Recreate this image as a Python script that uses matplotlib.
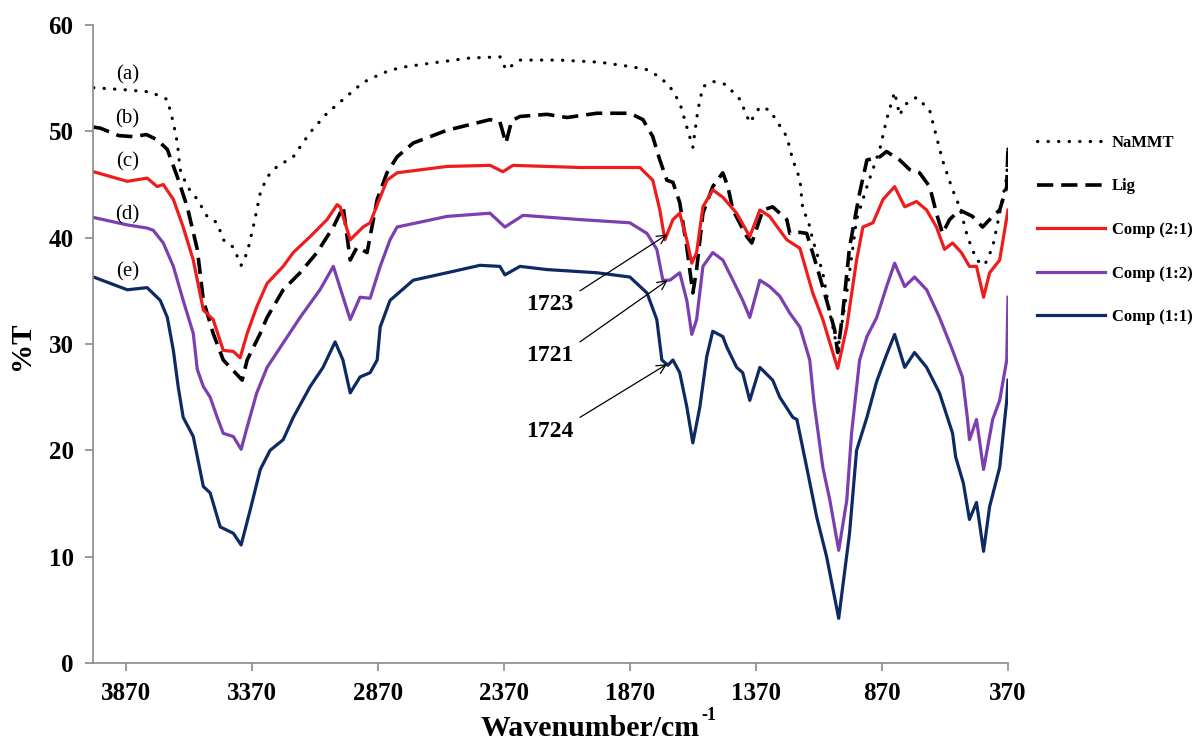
import matplotlib
matplotlib.use("Agg")
import matplotlib.pyplot as plt

plt.rcParams['font.family'] = ['Liberation Serif', 'DejaVu Serif']

# FTIR spectra: wavenumber (cm-1) and transmittance (%T)
wn_nammt = [4000, 3870, 3775, 3735, 3707, 3683, 3667, 3656, 3628, 3588, 3549, 3509, 3485,
            3445, 3414, 3390, 3366, 3338, 3311, 3271, 3207, 3140, 3073, 3009, 2930, 2850,
            2783, 2664, 2505, 2386, 2363, 2307, 2149, 1990, 1871, 1803, 1752, 1712, 1673,
            1645, 1621, 1601, 1581, 1542, 1490, 1434, 1395, 1355, 1316, 1248, 1224, 1196,
            1184, 1165, 1145, 1105, 1077, 1046, 1010, 971, 930, 879, 852, 820, 800, 780,
            733, 681, 654, 630, 590, 562, 531, 495, 463, 431, 403, 375, 370]
t_nammt = [54.1, 53.9, 53.7, 53.3, 53.0, 50.8, 48.9, 46.4, 44.8, 43.6, 42.0, 41.4, 39.8,
           39.1, 37.4, 38.6, 41.0, 44.2, 45.7, 46.7, 47.6, 49.9, 51.7, 53.0, 54.6, 55.5,
           56.0, 56.4, 56.9, 57.0, 55.8, 56.7, 56.7, 56.5, 56.1, 55.8, 55.1, 54.2, 52.7,
           50.4, 48.5, 52.0, 54.2, 54.7, 54.4, 53.0, 50.8, 52.3, 52.0, 49.5, 47.3, 45.5,
           42.5, 41.8, 39.8, 36.7, 32.9, 29.4, 34.8, 41.7, 44.8, 48.3, 51.1, 53.7, 51.5,
           52.5, 53.2, 52.0, 49.5, 47.3, 44.5, 42.9, 40.1, 37.9, 37.4, 39.1, 42.3, 45.7, 48.5]

wn_lig = [4000, 3973, 3900, 3842, 3790, 3747, 3707, 3667, 3628, 3588, 3564, 3525, 3485,
          3445, 3410, 3390, 3338, 3311, 3247, 3180, 3113, 3048, 3009, 2981, 2954, 2914,
          2874, 2835, 2795, 2731, 2597, 2426, 2387, 2363, 2340, 2307, 2200, 2121, 2002,
          1871, 1819, 1780, 1752, 1724, 1700, 1673, 1645, 1621, 1606, 1581, 1542, 1502,
          1482, 1462, 1407, 1387, 1343, 1304, 1248, 1236, 1196, 1169, 1129, 1090, 1058,
          1046, 1026, 999, 959, 930, 879, 852, 800, 760, 721, 681, 654, 630, 602, 562,
          511, 471, 431, 403, 375, 370]
t_lig = [50.4, 50.3, 49.6, 49.5, 49.7, 49.2, 48.3, 45.7, 42.9, 38.9, 34.1, 31.0, 28.5,
         27.5, 26.6, 28.5, 31.0, 32.5, 35.1, 36.7, 38.6, 41.0, 42.9, 37.9, 39.1, 38.6,
         43.6, 46.1, 47.6, 48.9, 50.1, 51.1, 50.9, 48.9, 51.0, 51.4, 51.6, 51.3, 51.7,
         51.7, 51.1, 49.5, 47.3, 45.4, 45.2, 43.3, 39.1, 34.8, 37.0, 42.3, 44.8, 46.1,
         44.8, 42.6, 40.1, 39.5, 42.6, 42.9, 41.7, 40.4, 40.5, 40.4, 37.3, 34.1, 31.3,
         29.2, 32.9, 39.1, 44.2, 47.3, 47.6, 48.1, 47.3, 46.4, 46.1, 44.8, 42.3, 40.4,
         41.7, 42.6, 42.0, 41.0, 42.0, 42.6, 44.8, 48.5]

wn_c21 = [4000, 3866, 3787, 3747, 3723, 3683, 3644, 3604, 3564, 3525, 3485, 3445, 3418,
          3390, 3352, 3311, 3247, 3207, 3140, 3073, 3033, 3021, 2981, 2930, 2902, 2835,
          2795, 2597, 2426, 2375, 2335, 2069, 1831, 1780, 1752, 1732, 1700, 1673, 1645,
          1625, 1606, 1581, 1542, 1502, 1447, 1395, 1355, 1316, 1276, 1248, 1196, 1145,
          1105, 1077, 1046, 1010, 971, 946, 906, 866, 820, 780, 733, 693, 654, 622, 590,
          555, 523, 495, 467, 443, 403, 370]
t_c21 = [46.2, 45.3, 45.6, 44.8, 45.0, 43.6, 41.0, 37.9, 33.2, 32.3, 29.4, 29.3, 28.7,
         31.0, 33.5, 35.7, 37.3, 38.6, 40.1, 41.7, 43.1, 42.9, 39.8, 41.0, 41.4, 45.4,
         46.1, 46.7, 46.8, 46.2, 46.8, 46.6, 46.6, 45.4, 42.6, 39.8, 41.7, 42.3, 39.8,
         37.6, 38.6, 42.9, 44.5, 43.8, 42.3, 40.1, 42.6, 42.0, 40.7, 39.8, 39.0, 34.8,
         32.3, 30.1, 27.7, 31.6, 37.9, 41.0, 41.4, 43.6, 44.8, 42.9, 43.4, 42.6, 41.0,
         38.9, 39.5, 38.6, 37.3, 37.3, 34.4, 36.7, 37.9, 42.6]

wn_c12 = [4000, 3866, 3787, 3763, 3723, 3683, 3644, 3604, 3588, 3564, 3537, 3509, 3485,
          3445, 3414, 3390, 3352, 3311, 3247, 3180, 3101, 3048, 2981, 2942, 2902, 2862,
          2823, 2795, 2597, 2426, 2367, 2295, 2069, 1871, 1803, 1764, 1740, 1712, 1673,
          1645, 1625, 1606, 1581, 1542, 1502, 1462, 1423, 1395, 1355, 1316, 1276, 1236,
          1196, 1157, 1140, 1105, 1077, 1042, 1010, 991, 959, 930, 891, 852, 820, 780,
          741, 693, 642, 590, 551, 531, 523, 495, 467, 431, 403, 375, 370]
t_c12 = [41.9, 41.2, 40.9, 40.7, 39.5, 37.3, 34.1, 31.0, 27.6, 26.0, 25.0, 23.1, 21.6,
         21.3, 20.1, 22.2, 25.4, 27.8, 30.1, 32.5, 35.1, 37.3, 32.3, 34.4, 34.3, 37.3,
         39.8, 41.0, 42.0, 42.3, 41.0, 42.1, 41.7, 41.4, 40.4, 38.9, 36.0, 36.0, 36.7,
         34.1, 30.9, 32.3, 37.3, 38.6, 37.9, 36.0, 34.1, 32.5, 36.0, 35.4, 34.5, 32.9,
         31.6, 28.5, 24.5, 18.4, 15.3, 10.6, 15.3, 21.6, 28.5, 30.7, 32.5, 35.4, 37.6,
         35.4, 36.3, 35.1, 32.5, 29.4, 26.9, 23.0, 21.0, 22.9, 18.2, 22.9, 24.7, 28.5, 34.4]

wn_c11 = [4000, 3866, 3787, 3735, 3707, 3683, 3664, 3644, 3604, 3564, 3537, 3497, 3445,
          3414, 3378, 3338, 3299, 3247, 3207, 3140, 3089, 3041, 3010, 2981, 2942, 2902,
          2874, 2862, 2823, 2731, 2597, 2466, 2387, 2367, 2307, 2200, 2002, 1871, 1803,
          1764, 1744, 1720, 1700, 1673, 1645, 1621, 1593, 1566, 1542, 1502, 1486, 1447,
          1423, 1395, 1355, 1304, 1276, 1224, 1208, 1169, 1129, 1090, 1042, 999, 971,
          930, 891, 852, 820, 780, 741, 693, 642, 590, 578, 547, 523, 495, 467, 443, 403,
          375, 370]
t_c11 = [36.3, 35.1, 35.3, 34.1, 32.5, 29.4, 26.0, 23.1, 21.3, 16.6, 16.0, 12.8, 12.2,
         11.1, 14.4, 18.2, 20.0, 21.0, 23.1, 26.0, 27.8, 30.2, 28.5, 25.4, 26.9, 27.3,
         28.5, 31.6, 34.1, 36.0, 36.7, 37.4, 37.3, 36.5, 37.3, 37.0, 36.7, 36.3, 34.8,
         32.3, 28.5, 28.0, 28.5, 27.3, 24.1, 20.7, 24.1, 28.8, 31.2, 30.7, 29.7, 27.8,
         27.3, 24.7, 27.8, 26.6, 25.0, 23.1, 22.9, 18.4, 13.7, 10.0, 4.2, 12.2, 20.0,
         23.1, 26.5, 29.0, 30.9, 27.8, 29.2, 27.8, 25.4, 21.6, 19.4, 16.9, 13.5, 15.1,
         10.5, 14.7, 18.4, 24.7, 26.6]

series_labels = ["NaMMT", "Lig", "Comp (2:1)", "Comp (1:2)", "Comp (1:1)"]
curve_tags = ["(a)", "(b)", "(c)", "(d)", "(e)"]
tag_t = [55.3, 51.2, 47.1, 42.1, 36.8]
x_ticks = [3870, 3370, 2870, 2370, 1870, 1370, 870, 370]
y_ticks = [0, 10, 20, 30, 40, 50, 60]

# carbonyl band annotations: label, band position, %T of the band, %T of the label
peak_labels = ["1723", "1721", "1724"]
peak_wn = [1723, 1721, 1724]
peak_t = [40.3, 36.0, 28.1]
label_t = [33.7, 28.9, 21.8]

fig = plt.figure(figsize=(11.95, 7.42), dpi=100)
ax = fig.add_axes([93 / 1195, 1 - 663 / 742, (1008 - 93) / 1195, (663 - 25) / 742])

styles = [dict(color="black", lw=2.3, linestyle=(0, (0.1, 3.2)), dash_capstyle="round"),
          dict(color="black", lw=2.6, linestyle=(0, (4.5, 2.2))),
          dict(color="#EE1C1C", lw=2.3),
          dict(color="#7B3FB0", lw=2.3),
          dict(color="#0D2A63", lw=2.3)]
data = [(wn_nammt, t_nammt), (wn_lig, t_lig), (wn_c21, t_c21),
        (wn_c12, t_c12), (wn_c11, t_c11)]

for (wx, ty), st, lab in zip(data, styles, series_labels):
    ax.plot(wx, ty, label=lab, solid_joinstyle="round", **st)

ax.set_xlim(4002, 370)
ax.set_ylim(0, 60)
ax.set_xticks(x_ticks)
ax.set_xticklabels([str(v) for v in x_ticks])
ax.set_yticks(y_ticks)

for side in ("top", "right"):
    ax.spines[side].set_visible(False)
for side in ("left", "bottom"):
    ax.spines[side].set_color("#8a8a8a")
    ax.spines[side].set_linewidth(1.2)
ax.tick_params(axis="both", direction="out", length=6, width=1.2, color="#8a8a8a",
               labelsize=18, pad=8)
for lbl in ax.get_xticklabels() + ax.get_yticklabels():
    lbl.set_fontweight("bold")

# axis titles
xt = fig.text(481 / 1195, 1 - 728 / 742, "Wavenumber/cm", ha="left", va="center",
              fontsize=21.5, fontweight="bold")
fig.canvas.draw()
bb = xt.get_window_extent(renderer=fig.canvas.get_renderer())
fig.text((bb.x1 + 1) / 1195, 1 - 715 / 742, "-1", ha="left", va="center",
         fontsize=13, fontweight="bold")
fig.text(22 / 1195, 1 - 346 / 742, "%T", ha="center", va="center", rotation=90,
         fontsize=21, fontweight="bold")

# curve tags near the left edge
for tag, yt in zip(curve_tags, tag_t):
    ax.text(3865, yt, tag, fontsize=15, ha="center", va="center")

for txt, xw, yt, ylab in zip(peak_labels, peak_wn, peak_t, label_t):
    ax.annotate("", xy=(xw, yt), xytext=(2069, ylab + 1.3),
                arrowprops=dict(arrowstyle="->", color="black", lw=0.9,
                                mutation_scale=16, shrinkA=0, shrinkB=0))
    ax.text(2190, ylab, txt, fontsize=17, fontweight="bold", ha="center", va="center")

fig.legend(loc="upper left", bbox_to_anchor=(1022 / 1195, 1 - 120 / 742),
           frameon=False, handlelength=4.1, handletextpad=0.4, labelspacing=1.65,
           prop=dict(size=12, weight="bold"))

fig.savefig("out.png", dpi=100)
